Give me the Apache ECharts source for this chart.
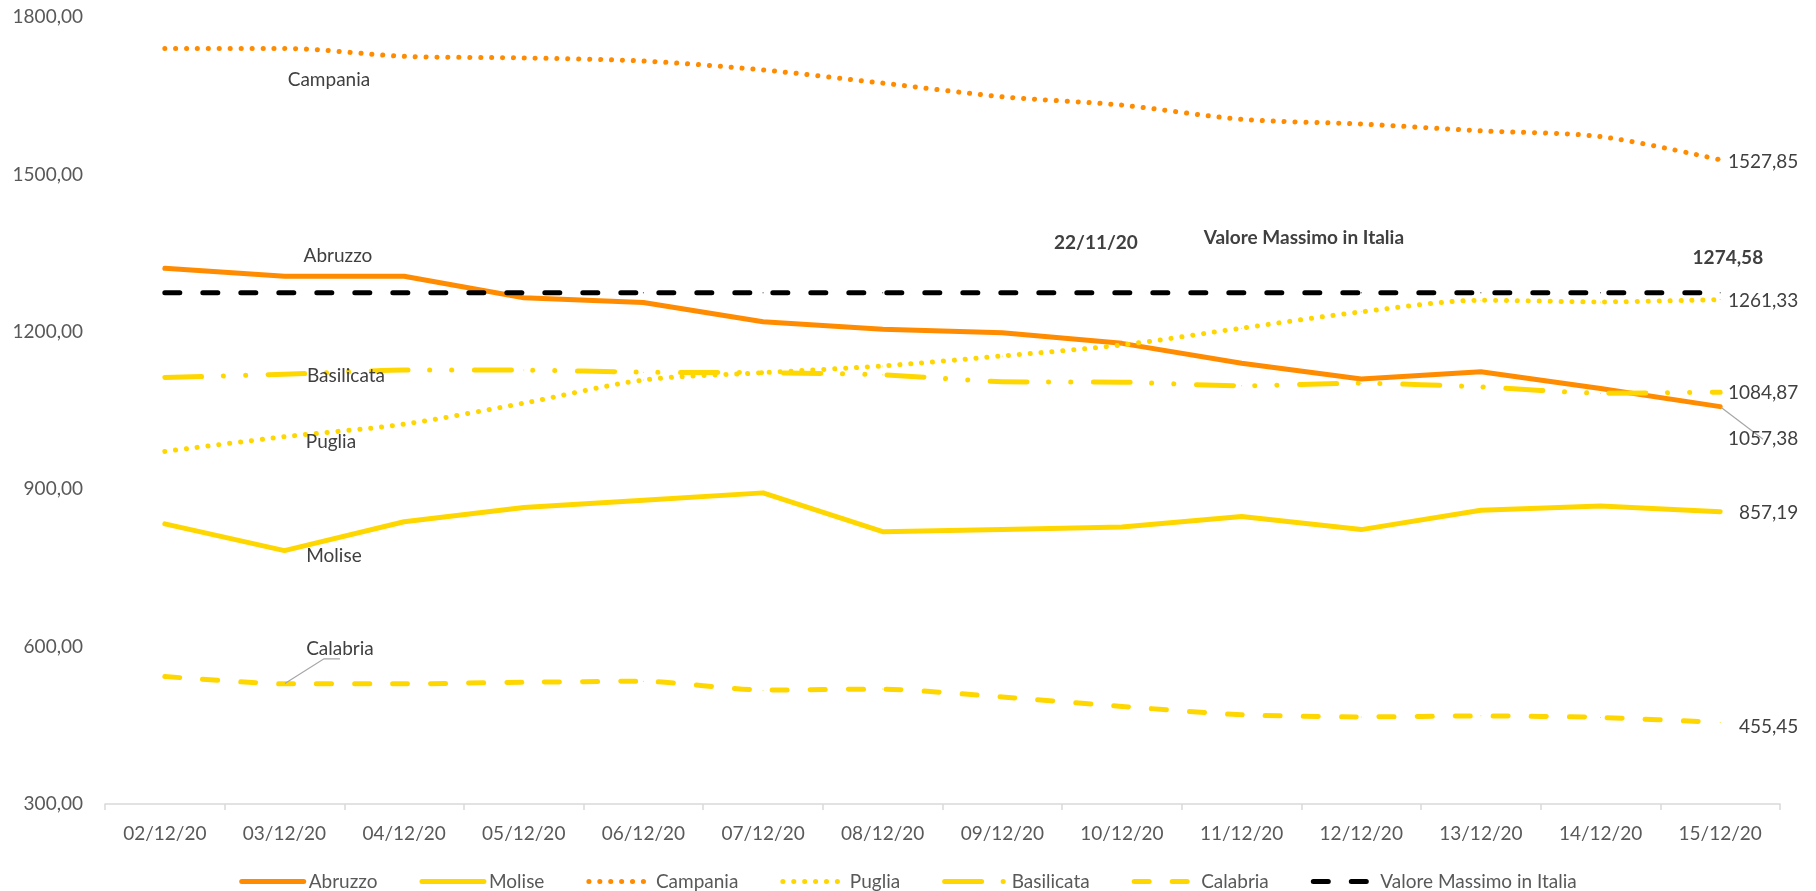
<!DOCTYPE html>
<html>
<head>
<meta charset="utf-8">
<title>Regioni</title>
<script src="https://cdn.jsdelivr.net/npm/echarts@6.0.0/dist/echarts.min.js"></script>
<style>
  html, body { margin: 0; padding: 0; background: #fff; }
  #chart { width: 1816px; height: 891px; }
</style>
</head>
<body>
<div id="chart"></div>
<script>
// dati
const dates = ['02/12/20', '03/12/20', '04/12/20', '05/12/20', '06/12/20', '07/12/20', '08/12/20',
  '09/12/20', '10/12/20', '11/12/20', '12/12/20', '13/12/20', '14/12/20', '15/12/20'];
const abruzzo = [1321, 1306, 1306, 1265, 1256, 1219, 1205, 1198, 1178, 1140, 1110, 1124, 1092, 1057.38];
const molise = [834, 783, 838, 865, 879, 893, 819, 823, 828, 848, 823, 860, 868, 857.19];
const campania = [1740, 1740, 1725, 1722, 1716, 1699, 1674, 1648, 1632, 1605, 1596, 1583, 1572, 1527.85];
const puglia = [972, 1000, 1024, 1064, 1108, 1122, 1135, 1154, 1175, 1207, 1238, 1260, 1257, 1261.33];
const basilicata = [1113, 1119, 1127, 1127, 1123, 1122, 1118, 1105, 1104, 1097, 1102, 1095, 1083, 1084.87];
const calabria = [543, 529, 529, 532, 534, 517, 519, 504, 486, 470, 466, 468, 465, 455.45];
const valoreMax = [1274.58, 1274.58, 1274.58, 1274.58, 1274.58, 1274.58, 1274.58,
  1274.58, 1274.58, 1274.58, 1274.58, 1274.58, 1274.58, 1274.58];
const yTicks = { min: 300, max: 1800, step: 300 };
const dataMax = '22/11/20';

const ORANGE = '#FF8C00';
const YELLOW = '#FFD700';
const TXT = '#404040';
const AXIS_TXT = '#595959';
const FONT = 'Lato';

const fmt = v => v.toFixed(2).replace('.', ',');

function lbl(text, offset, extra) {
  return Object.assign({
    show: true, position: 'inside', formatter: text, offset: offset,
    color: TXT, fontSize: 19, fontFamily: FONT
  }, extra || {});
}

// etichette: indice -> label (+ linea guida)
function build(values, marks) {
  return values.map((v, i) => {
    if (!marks[i]) return v;
    const item = { value: v, label: marks[i].label };
    if (marks[i].guide != null) {
      item.labelLine = { show: true, length2: marks[i].guide, lineStyle: { color: '#a6a6a6', width: 1.2 } };
    }
    return item;
  });
}

function line(name, values, color, dash, marks, smooth) {
  return {
    name: name,
    type: 'line',
    data: build(values, marks),
    symbol: 'circle',
    symbolSize: 1,
    showSymbol: true,
    smooth: smooth || false,
    lineStyle: { color: color, width: 5, type: dash, cap: 'round', join: 'round' },
    itemStyle: { color: color },
    label: { show: false },
    emphasis: { disabled: true },
    silent: true
  };
}

const last = dates.length - 1;
const right = (v, off, extra) => lbl(fmt(v), off, Object.assign({ align: 'left' }, extra || {}));

const series = [
  line('Abruzzo', abruzzo, ORANGE, 'solid', {
    1: { label: lbl('{a}', [53.5, -20]) },
    [last]: {
      label: right(abruzzo[last], [-42.3, 32.6], { padding: [6, 50, 0, 50], backgroundColor: 'rgba(255,255,255,0)' }),
      guide: 0
    }
  }),
  line('Molise', molise, YELLOW, 'solid', {
    1: { label: lbl('{a}', [49.5, 5]) },
    [last]: { label: right(molise[last], [18.7, 1.7]) }
  }),
  line('Campania', campania, ORANGE, [0.1, 10.8], {
    1: { label: lbl('{a}', [44.5, 31.5]) },
    [last]: { label: right(campania[last], [7.7, 2.3]) }
  }, 0.3),
  line('Puglia', puglia, YELLOW, [0.1, 10.8], {
    1: { label: lbl('{a}', [46.5, 5.5]) },
    [last]: { label: right(puglia[last], [7.7, 1.6]) }
  }, 0.3),
  line('Basilicata', basilicata, YELLOW, [37, 21.5, 0.1, 22, 0.1, 22.5], {
    1: { label: lbl('{a}', [61.5, 2]) },
    [last]: { label: right(basilicata[last], [7.7, 1]) }
  }, 0.2),
  line('Calabria', calabria, YELLOW, [15, 23], {
    1: { label: lbl('{a}', [55.5, -34.5]), guide: 16 },
    [last]: { label: right(calabria[last], [18.7, 4]) }
  }, 0.2),
  line('Valore Massimo in Italia', valoreMax, '#000000', [15, 23], {
    8: { label: lbl(dataMax, [-26, -49.5], { fontWeight: 'bold' }) },
    10: { label: lbl('{a}', [-57.4, -54.5], { fontWeight: 'bold' }) },
    [last]: { label: lbl(fmt(valoreMax[last]), [7.7, -34.5], { fontWeight: 'bold' }) }
  })
];

const chart = echarts.init(document.getElementById('chart'));
chart.setOption({
  animation: false,
  backgroundColor: '#fff',
  textStyle: { fontFamily: FONT },
  grid: { left: 105, right: 36, top: 17, bottom: 87, containLabel: false },
  legend: {
    data: series.map(s => s.name),
    left: 'center',
    top: 867,
    itemWidth: 62,
    itemHeight: 20,
    itemGap: 42,
    textStyle: { color: AXIS_TXT, fontSize: 19, fontFamily: FONT },
    lineStyle: { width: 5 },
    itemStyle: { opacity: 0 },
    selectedMode: false
  },
  xAxis: {
    type: 'category',
    data: dates,
    boundaryGap: true,
    axisLine: { show: true, lineStyle: { color: '#d9d9d9', width: 1.5 } },
    axisTick: { show: true, length: 6, alignWithLabel: false, lineStyle: { color: '#d9d9d9', width: 1.5 } },
    axisLabel: { color: AXIS_TXT, fontSize: 19, fontFamily: FONT, margin: 20, interval: 0 },
    splitLine: { show: false }
  },
  yAxis: {
    type: 'value',
    min: yTicks.min,
    max: yTicks.max,
    interval: yTicks.step,
    axisLine: { show: false },
    axisTick: { show: false },
    splitLine: { show: false },
    axisLabel: { color: AXIS_TXT, fontSize: 19, fontFamily: FONT, margin: 22, formatter: v => fmt(v) }
  },
  series: series
});
</script>
</body>
</html>
